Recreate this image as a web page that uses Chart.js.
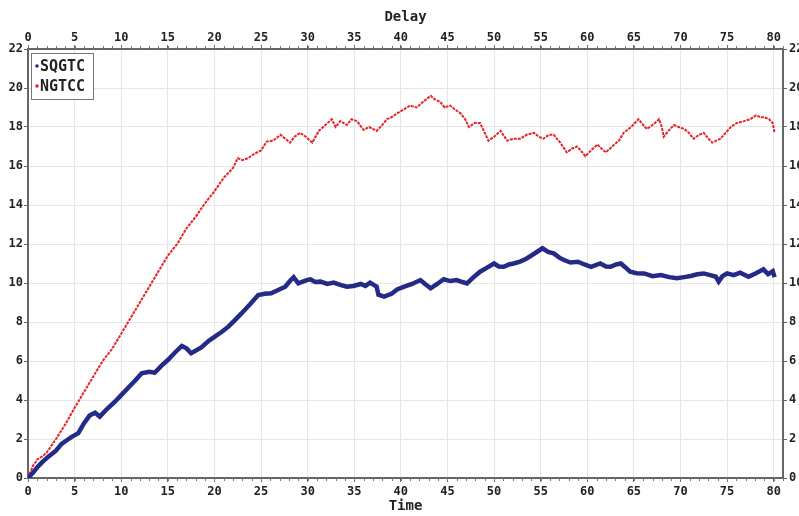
<!DOCTYPE html>
<html>
<head>
<meta charset="utf-8">
<script src="https://cdn.jsdelivr.net/npm/chart.js@4.4.1/dist/chart.umd.min.js"></script>
<style>
  html, body { margin: 0; padding: 0; background: #fff; overflow: hidden; width: 799px; height: 516px; }
  #wrap { position: absolute; left: 0; top: 0; width: 815px; height: 516px; }
</style>
</head>
<body>
<div id="wrap"><canvas id="chart" width="815" height="516"></canvas></div>
<script>
// series
const seriesNames = ['SQGTC', 'NGTCC'];
const seriesColors = ['#252a86', '#e3262c'];

const sqgtcTime = [0, 0.5, 1, 1.5, 2.15, 3, 3.6, 4.2, 4.65, 5.4, 6, 6.6, 7.2, 7.7, 8.5, 9.3, 10, 10.7, 11.5, 12.2,
  13, 13.6, 14.3, 15, 15.8, 16.5, 17, 17.5, 18.6, 19.3, 20, 20.8, 21.5, 22.2, 22.9, 23.8, 24.7, 25.4, 26.1, 26.9,
  27.6, 28.1, 28.5, 29, 29.9, 30.3, 30.8, 31.4, 32.1, 32.8, 33.5, 34.2, 34.9, 35.7, 36.2, 36.7, 37.4, 37.6, 38.2, 39,
  39.6, 40.3, 41.2, 42.1, 42.6, 43.2, 43.9, 44.6, 45.3, 46, 46.6, 47.1, 47.8, 48.5, 49.3, 50, 50.5, 51.05, 51.6, 52.1,
  52.8, 53.5, 54.3, 55.2, 55.8, 56.4, 57, 57.5, 58.2, 59, 59.7, 60.4, 61.4, 62, 62.5, 63.1, 63.6, 64.1, 64.6, 65.3,
  66.1, 67, 67.9, 68.8, 69.6, 70.4, 71.1, 71.8, 72.5, 73.2, 73.8, 74.1, 74.5, 75, 75.7, 76.4, 77.3, 78.1, 78.9, 79.4,
  79.9, 80.1];
const sqgtcValues = [0, 0.25, 0.55, 0.8, 1.08, 1.4, 1.75, 1.95, 2.1, 2.3, 2.8, 3.2, 3.35, 3.15, 3.55, 3.9, 4.25, 4.6, 5.0, 5.37,
  5.45, 5.4, 5.75, 6.05, 6.45, 6.77, 6.65, 6.4, 6.7, 7.0, 7.24, 7.5, 7.76, 8.1, 8.44, 8.9, 9.38, 9.45, 9.47, 9.65,
  9.81, 10.1, 10.3, 9.98, 10.15, 10.19, 10.05, 10.07, 9.95, 10.02, 9.9, 9.81, 9.85, 9.95, 9.85, 10.02, 9.81, 9.4, 9.3, 9.45,
  9.67, 9.8, 9.95, 10.15, 9.95, 9.73, 9.95, 10.19, 10.1, 10.15, 10.05, 9.98, 10.3, 10.58, 10.8, 11.0, 10.85, 10.83, 10.95, 11.0,
  11.1, 11.26, 11.5, 11.78, 11.6, 11.52, 11.3, 11.18, 11.05, 11.09, 10.95, 10.83, 11.0, 10.85, 10.83, 10.95, 11.0, 10.8, 10.58, 10.5,
  10.49, 10.35, 10.41, 10.3, 10.24, 10.3, 10.36, 10.45, 10.49, 10.4, 10.32, 10.07, 10.35, 10.49, 10.4, 10.53, 10.32, 10.5, 10.7, 10.45,
  10.6, 10.3];

const ngtccTime = [0, 0.5, 1, 1.5, 2, 3, 4, 5, 6, 7, 8, 9, 10, 11, 12, 13, 14, 15, 16, 17,
  18, 19, 20, 21, 22, 22.5, 23, 23.6, 24.2, 25, 25.6, 26.3, 27.1, 27.6, 28.1, 28.6, 29.2, 29.8, 30.5, 31.2,
  31.9, 32.6, 33, 33.5, 34.2, 34.7, 35.3, 36, 36.6, 37.4, 38, 38.5, 39, 39.6, 40.3, 41, 41.7, 42.4, 43.2, 43.7,
  44.2, 44.7, 45.3, 45.8, 46.4, 46.9, 47.3, 47.9, 48.5, 48.9, 49.4, 50, 50.7, 51.4, 52.1, 52.8, 53.5, 54.3, 54.8, 55.3,
  55.9, 56.4, 57.1, 57.8, 58.4, 58.9, 59.3, 59.8, 60.4, 61.1, 61.5, 62, 62.9, 63.4, 63.9, 64.7, 65.5, 66, 66.4, 67,
  67.7, 68, 68.2, 68.7, 69.3, 69.8, 70.4, 70.9, 71.4, 72, 72.5, 73, 73.4, 74.3, 75.4, 76, 76.8, 77.5, 78.1, 78.6,
  79, 79.5, 79.9, 80.1];
const ngtccValues = [0, 0.6, 0.95, 1.1, 1.3, 2.0, 2.75, 3.6, 4.4, 5.2, 6.0, 6.6, 7.4, 8.2, 9.0, 9.8, 10.6, 11.4, 12.0, 12.8,
  13.4, 14.1, 14.7, 15.4, 15.9, 16.4, 16.3, 16.4, 16.6, 16.8, 17.25, 17.3, 17.6, 17.4, 17.2, 17.5, 17.7, 17.5, 17.2, 17.8,
  18.1, 18.4, 18.0, 18.3, 18.1, 18.4, 18.3, 17.85, 18.0, 17.8, 18.1, 18.4, 18.5, 18.7, 18.9, 19.1, 19.0, 19.3, 19.6, 19.4,
  19.3, 19.0, 19.1, 18.9, 18.7, 18.4, 18.0, 18.2, 18.2, 17.8, 17.3, 17.5, 17.8, 17.3, 17.4, 17.4, 17.6, 17.7, 17.5, 17.4,
  17.6, 17.6, 17.2, 16.7, 16.9, 17.0, 16.8, 16.5, 16.8, 17.1, 16.9, 16.7, 17.1, 17.3, 17.7, 18.0, 18.4, 18.1, 17.9, 18.1,
  18.4, 18.0, 17.5, 17.8, 18.1, 18.0, 17.9, 17.7, 17.4, 17.6, 17.7, 17.4, 17.2, 17.4, 18.0, 18.2, 18.3, 18.4, 18.6, 18.5,
  18.5, 18.4, 18.2, 17.7];

const xMin = 0, xMax = 81, xStep = 5;
const yMin = 0, yMax = 22, yStep = 2;
const xTitleBottom = 'Time';
const xTitleTop = 'Delay';

const toPoints = (xs, ys) => xs.map((x, i) => ({x: x, y: ys[i]}));

const tickFont = {family: 'DejaVu Sans Mono', size: 12, weight: 'bold'};
const titleFont = {family: 'DejaVu Sans Mono', size: 14, weight: 'bold'};
const borderOpts = {display: true, color: '#666', width: 2};

// legend box drawn inside the plot, top left
const boxLegend = {
    id: 'boxLegend',
    afterDraw(chart) {
        const ctx = chart.ctx;
        const area = chart.chartArea;
        const left = area.left + 3, top = area.top + 4;
        const w = 62, h = 46;
        ctx.save();
        ctx.fillStyle = '#fff';
        ctx.fillRect(left, top, w, h);
        ctx.strokeStyle = '#777';
        ctx.lineWidth = 1;
        ctx.strokeRect(left + 0.5, top + 0.5, w, h);
        ctx.font = 'bold 15px "DejaVu Sans Mono"';
        ctx.textBaseline = 'middle';
        chart.data.datasets.forEach((ds, i) => {
            const cy = top + 13 + i * 20;
            ctx.fillStyle = ds.borderColor;
            ctx.beginPath();
            ctx.arc(left + 6, cy, 1.8, 0, Math.PI * 2);
            ctx.fill();
            ctx.fillStyle = '#222';
            ctx.fillText(ds.label, left + 9, cy + 1);
        });
        ctx.restore();
    }
};

// small minor ticks along the top and bottom frame
const minorTicks = {
    id: 'minorTicks',
    afterDraw(chart) {
        const ctx = chart.ctx;
        const area = chart.chartArea;
        const xs = chart.scales.x;
        ctx.save();
        ctx.strokeStyle = '#777';
        ctx.lineWidth = 1;
        ctx.beginPath();
        for (let v = xMin; v <= xMax; v += 1) {
            const px = Math.round(xs.getPixelForValue(v)) + 0.5;
            ctx.moveTo(px, area.top - 3);
            ctx.lineTo(px, area.top);
            ctx.moveTo(px, area.bottom);
            ctx.lineTo(px, area.bottom + 3);
        }
        ctx.stroke();
        ctx.restore();
    }
};

new Chart(document.getElementById('chart'), {
    type: 'line',
    data: {
        datasets: [
            {
                label: seriesNames[0],
                data: toPoints(sqgtcTime, sqgtcValues),
                borderColor: seriesColors[0],
                backgroundColor: seriesColors[0],
                borderWidth: 4.5,
                pointRadius: 0,
                tension: 0
            },
            {
                label: seriesNames[1],
                data: toPoints(ngtccTime, ngtccValues),
                borderColor: seriesColors[1],
                backgroundColor: seriesColors[1],
                borderWidth: 2,
                borderDash: [3, 1],
                pointRadius: 0,
                tension: 0
            }
        ]
    },
    options: {
        responsive: false,
        animation: false,
        devicePixelRatio: 1,
        layout: {padding: 0},
        plugins: {
            legend: {display: false},
            tooltip: {enabled: false}
        },
        scales: {
            x: {
                type: 'linear', position: 'bottom', min: xMin, max: xMax,
                afterFit: s => { s.height = 38; },
                ticks: {stepSize: xStep, includeBounds: false, font: tickFont, color: '#222', padding: 3, maxRotation: 0},
                grid: {color: '#e6e6e6', tickLength: 4, tickColor: '#666'},
                border: borderOpts,
                title: {display: true, text: xTitleBottom, font: titleFont, color: '#222', padding: {top: 0, bottom: 1}}
            },
            x2: {
                type: 'linear', position: 'top', min: xMin, max: xMax,
                afterFit: s => { s.height = 49; },
                ticks: {stepSize: xStep, includeBounds: false, font: tickFont, color: '#222', padding: 0, maxRotation: 0},
                grid: {drawOnChartArea: false, tickLength: 4, tickColor: '#666'},
                border: borderOpts,
                title: {display: true, text: xTitleTop, font: titleFont, color: '#222', padding: {top: 9, bottom: 0}}
            },
            y: {
                position: 'left', min: yMin, max: yMax,
                afterFit: s => { s.width = 28; },
                ticks: {stepSize: yStep, font: tickFont, color: '#222', padding: 1},
                grid: {color: '#e6e6e6', tickLength: 4, tickColor: '#666'},
                border: borderOpts
            },
            y2: {
                position: 'right', min: yMin, max: yMax,
                afterFit: s => { s.width = 32; },
                ticks: {stepSize: yStep, font: tickFont, color: '#222', padding: 2},
                grid: {drawOnChartArea: false, tickLength: 4, tickColor: '#666'},
                border: borderOpts
            }
        }
    },
    plugins: [boxLegend, minorTicks]
});
</script>
</body>
</html>
